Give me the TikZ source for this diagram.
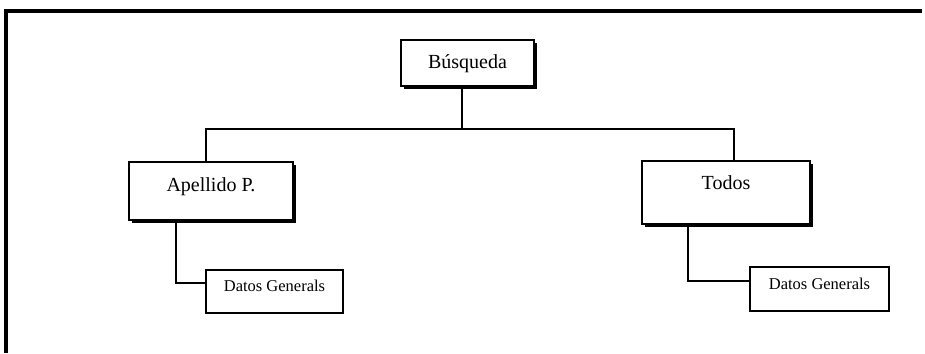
\documentclass[tikz,border=0pt]{standalone}
\usepackage{fontspec}
\setmainfont{Liberation Serif}
\usepackage{tikz}
\usetikzlibrary{positioning}
\usetikzlibrary{shadows}

\begin{document}
\begin{tikzpicture}
  [
    x=1pt, y=-1pt,
    menu/.style={
      draw=black,
      line width=1.8pt,
      fill=white,
      inner sep=0pt,
      font=\fontsize{20}{24}\selectfont,
      drop shadow={shadow xshift=3pt, shadow yshift=-3pt, fill=black, opacity=1}
    },
    sub/.style={
      draw=black,
      line width=1.6pt,
      fill=white,
      inner sep=0pt,
      text height=6pt,
      text depth=6pt,
      font=\fontsize{16.5}{20}\selectfont
    },
    ln/.style={draw=black, line width=2.2pt}
  ]
  \useasboundingbox (0,0) rectangle (925,353);

  \draw [line width=3.2pt] (4,11) -- (922,11);
  \draw [line width=3.2pt] (6,11) -- (6,353);

  \node (busq) at (467.5,63) [menu, minimum width=133pt, minimum height=46pt,
        text height=13pt, text depth=3pt] {Búsqueda};
  \node (apel) at (211,191) [menu, minimum width=164pt, minimum height=58pt,
        text height=8pt, text depth=8pt] {Apellido P.};
  \node (todos) at (726,192.5) [menu, minimum width=168pt, minimum height=63pt,
        text height=6pt, text depth=13pt] {Todos};

  \node (datosA) at (274.5,291.5) [sub, minimum width=137pt, minimum height=43pt] {Datos Generals};
  \node (datosT) at (819.5,289) [sub, minimum width=139pt, minimum height=44pt] {Datos Generals};

  \coordinate (hub) at (462,129);
  \coordinate (jA) at (206,129);
  \coordinate (jT) at (734,129);
  \coordinate (kA) at (176,283);
  \coordinate (kT) at (688,281);

  \draw [ln] (hub |- busq.south) -- (hub);
  \draw [ln] (jA |- apel.north) -- (jA) -- (jT) -- (jT |- todos.north);
  \draw [ln] (kA |- apel.south) -- (kA) -- (kA -| datosA.west);
  \draw [ln] (kT |- todos.south) -- (kT) -- (kT -| datosT.west);

\end{tikzpicture}
\end{document}
